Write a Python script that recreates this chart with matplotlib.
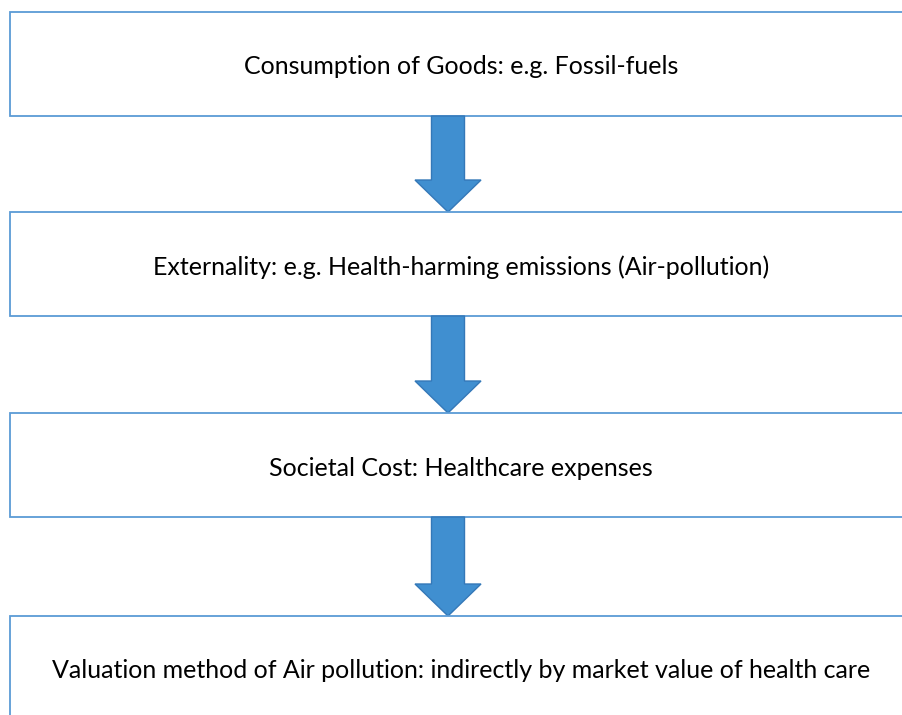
import matplotlib.pyplot as plt
from matplotlib.patches import Rectangle, FancyArrow

# Steps of the flow diagram, top to bottom
steps = [
    "Consumption of Goods: e.g. Fossil-fuels",
    "Externality: e.g. Health-harming emissions (Air-pollution)",
    "Societal Cost: Healthcare expenses",
    "Valuation method of Air pollution: indirectly by market value of health care",
]

box_top = [12, 212, 413, 616]
box_h = 104
box_left = 10
arrow_x = 448

fig = plt.figure(figsize=(9.03, 7.15), dpi=100)
ax = fig.add_axes([0, 0, 1, 1])
ax.set_xlim(0, 903)
ax.set_ylim(715, 0)
ax.axis('off')

for i, label in enumerate(steps):
    top = box_top[i]
    ax.add_patch(Rectangle((box_left, top), 1000, box_h, facecolor='white',
                           edgecolor='#5B9BD5', linewidth=1.3))
    ax.text(461, top + 55, label, ha='center', va='center',
            fontsize=18, family='Lato', color='black')
    if i < len(steps) - 1:
        start = top + box_h
        end = box_top[i + 1]
        ax.add_patch(FancyArrow(arrow_x, start, 0, end - start, width=33,
                                head_width=66, head_length=32,
                                length_includes_head=True,
                                facecolor='#408FD0', edgecolor='#3478B8',
                                linewidth=1))

fig.savefig('out.png', dpi=100)
